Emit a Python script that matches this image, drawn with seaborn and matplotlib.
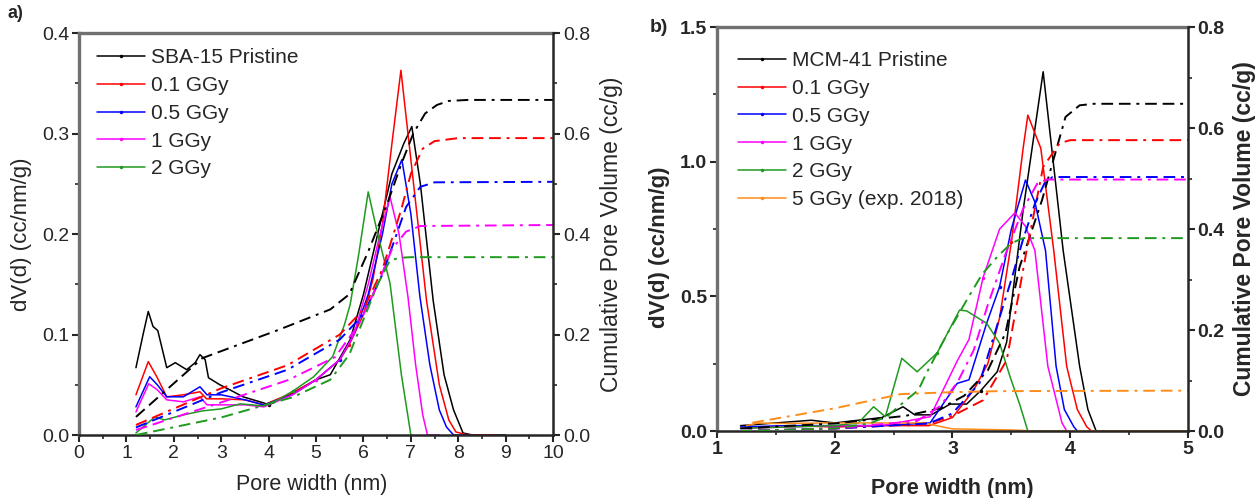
import matplotlib
matplotlib.use('Agg')
import matplotlib.pyplot as plt
import seaborn as sns
from matplotlib.ticker import MultipleLocator

# ---- panel a: SBA-15, pore size distribution (left axis) ----
a_black_x = [1.2, 1.35, 1.46, 1.56, 1.66, 1.85, 2.03, 2.27, 2.45, 2.55, 2.66, 2.73, 2.97, 3.18, 3.46, 3.89,
             4.0, 4.52, 5.0, 5.3, 5.72, 6.0, 6.3, 6.6, 6.85, 7.02, 7.2, 7.47, 7.7, 7.9, 8.1, 8.3, 9.0]
a_black_y = [0.067, 0.1, 0.123, 0.108, 0.104, 0.067, 0.072, 0.065, 0.072, 0.08, 0.075, 0.057, 0.05, 0.045, 0.038, 0.032,
             0.03, 0.042, 0.055, 0.06, 0.095, 0.14, 0.2, 0.26, 0.29, 0.307, 0.25, 0.134, 0.06, 0.025, 0.002, 0.0, 0.0]
a_red_x = [1.2, 1.46, 1.64, 1.85, 2.2, 2.55, 2.69, 3.0, 3.5, 3.9, 4.5, 5.0, 5.5, 5.7, 6.0, 6.2, 6.4, 6.6, 6.79,
           7.0, 7.33, 7.6, 7.8, 7.95, 8.2, 8.8]
a_red_y = [0.04, 0.073, 0.058, 0.038, 0.04, 0.043, 0.036, 0.036, 0.035, 0.03, 0.042, 0.055, 0.075, 0.09, 0.12, 0.155,
           0.21, 0.29, 0.363, 0.274, 0.134, 0.05, 0.015, 0.003, 0.0, 0.0]
a_blue_x = [1.2, 1.49, 1.65, 1.85, 2.2, 2.55, 2.7, 3.0, 3.5, 3.9, 4.5, 5.0, 5.5, 5.8, 6.1, 6.4, 6.6, 6.81,
            7.0, 7.19, 7.4, 7.6, 7.75, 7.9, 8.2]
a_blue_y = [0.028, 0.058, 0.05, 0.038, 0.038, 0.048, 0.04, 0.04, 0.035, 0.03, 0.04, 0.055, 0.075, 0.1, 0.14, 0.2,
            0.25, 0.274, 0.22, 0.138, 0.07, 0.025, 0.008, 0.0, 0.0]
a_mag_x = [1.2, 1.47, 1.65, 1.85, 2.2, 2.55, 2.7, 3.0, 3.5, 3.9, 4.5, 5.0, 5.5, 5.8, 6.1, 6.35, 6.56, 6.75,
           6.94, 7.1, 7.25, 7.35, 7.6]
a_mag_y = [0.023, 0.051, 0.045, 0.035, 0.033, 0.038, 0.03, 0.03, 0.03, 0.028, 0.04, 0.055, 0.075, 0.1, 0.15, 0.2,
           0.237, 0.2, 0.137, 0.07, 0.02, 0.0, 0.0]
a_green_x = [1.2, 1.4, 1.6, 1.8, 2.2, 2.6, 3.0, 3.4, 3.89, 4.2, 4.52, 4.95, 5.35, 5.6, 5.72, 5.9, 6.1, 6.3,
             6.56, 6.8, 7.0]
a_green_y = [0.002, 0.01, 0.018, 0.015, 0.02, 0.024, 0.026, 0.031, 0.029, 0.035, 0.044, 0.058, 0.078, 0.11, 0.13,
             0.18, 0.242, 0.2, 0.151, 0.06, 0.0]

# ---- panel a: cumulative pore volume (right axis) ----
a_cum_black_x = [1.2, 2.6, 4.2, 5.3, 5.7, 6.1, 6.5, 6.8, 7.05, 7.3, 7.55, 7.8, 8.2, 10.0]
a_cum_black_y = [0.036, 0.153, 0.209, 0.25, 0.28, 0.365, 0.46, 0.54, 0.6, 0.64, 0.657, 0.665, 0.667, 0.667]
a_cum_red_x = [1.2, 3.0, 4.4, 5.5, 6.0, 6.4, 6.8, 7.0, 7.25, 7.5, 8.0, 10.0]
a_cum_red_y = [0.02, 0.093, 0.139, 0.2, 0.25, 0.33, 0.45, 0.52, 0.57, 0.585, 0.591, 0.591]
a_cum_blue_x = [1.2, 3.0, 4.4, 5.5, 6.0, 6.4, 6.7, 6.9, 7.2, 7.5, 10.0]
a_cum_blue_y = [0.015, 0.085, 0.13, 0.19, 0.24, 0.32, 0.4, 0.454, 0.494, 0.503, 0.504]
a_cum_mag_x = [1.2, 3.0, 4.4, 5.4, 5.9, 6.3, 6.6, 6.9, 7.2, 10.0]
a_cum_mag_y = [0.01, 0.065, 0.109, 0.155, 0.22, 0.3, 0.37, 0.405, 0.416, 0.418]
a_cum_green_x = [1.2, 3.0, 4.5, 5.3, 5.7, 6.0, 6.3, 6.56, 6.8, 7.0, 10.0]
a_cum_green_y = [0.0, 0.035, 0.075, 0.11, 0.16, 0.23, 0.3, 0.348, 0.353, 0.354, 0.354]

a_labels = ["SBA-15 Pristine", "0.1 GGy", "0.5 GGy", "1 GGy", "2 GGy"]

# ---- panel b: MCM-41, pore size distribution (left axis) ----
b_black_x = [1.2, 1.5, 1.8, 2.0, 2.2, 2.4, 2.58, 2.68, 2.82, 2.98, 3.12, 3.24, 3.38, 3.46, 3.6, 3.77,
             3.94, 4.08, 4.15, 4.22, 4.6, 5.0]
b_black_y = [0.02, 0.03, 0.04, 0.03, 0.04, 0.05, 0.09, 0.06, 0.06, 0.1, 0.1, 0.15, 0.22, 0.33, 0.82, 1.334,
             0.67, 0.24, 0.08, 0.0, 0.0, 0.0]
b_red_x = [1.2, 1.6, 2.0, 2.4, 2.8, 3.0, 3.18, 3.3, 3.4, 3.5, 3.6, 3.64, 3.75, 3.86, 3.97, 4.06, 4.14, 4.18]
b_red_y = [0.01, 0.02, 0.015, 0.02, 0.02, 0.05, 0.152, 0.25, 0.42, 0.7, 1.05, 1.173, 1.05, 0.67, 0.24, 0.08,
           0.016, 0.0]
b_blue_x = [1.2, 1.6, 2.0, 2.4, 2.81, 3.04, 3.14, 3.29, 3.4, 3.5, 3.62, 3.7, 3.79, 3.88, 3.95, 4.03, 4.06]
b_blue_y = [0.015, 0.02, 0.02, 0.02, 0.03, 0.177, 0.19, 0.4, 0.536, 0.75, 0.932, 0.85, 0.67, 0.24, 0.08,
            0.016, 0.0]
b_mag_x = [1.2, 1.6, 2.0, 2.4, 2.81, 3.04, 3.14, 3.26, 3.4, 3.53, 3.62, 3.7, 3.81, 3.93, 3.97]
b_mag_y = [0.01, 0.015, 0.02, 0.02, 0.053, 0.26, 0.34, 0.57, 0.75, 0.81, 0.76, 0.67, 0.24, 0.03, 0.0]
b_green_x = [1.2, 1.6, 2.0, 2.2, 2.33, 2.43, 2.57, 2.7, 2.87, 3.06, 3.12, 3.29, 3.4, 3.49, 3.57, 3.64, 4.0]
b_green_y = [0.01, 0.015, 0.02, 0.03, 0.09, 0.053, 0.27, 0.22, 0.29, 0.449, 0.446, 0.4, 0.326, 0.2, 0.1,
             0.0, 0.0]
b_orange_x = [1.25, 1.35, 1.5, 2.0, 2.5, 2.75, 3.0, 3.5, 3.7, 5.0]
b_orange_y = [0.02, 0.03, 0.028, 0.03, 0.03, 0.03, 0.008, 0.004, 0.0, 0.0]

# ---- panel b: cumulative pore volume (right axis) ----
b_cum_black_x = [1.2, 2.0, 2.6, 2.9, 3.1, 3.3, 3.45, 3.57, 3.76, 3.96, 4.08, 4.2, 5.0]
b_cum_black_y = [0.005, 0.015, 0.03, 0.045, 0.07, 0.12, 0.194, 0.325, 0.457, 0.622, 0.645, 0.648, 0.648]
b_cum_red_x = [1.2, 2.0, 2.8, 3.0, 3.26, 3.46, 3.63, 3.77, 3.91, 4.0, 5.0]
b_cum_red_y = [0.0, 0.005, 0.015, 0.03, 0.061, 0.14, 0.358, 0.523, 0.57, 0.576, 0.576]
b_cum_blue_x = [1.2, 2.0, 2.8, 3.0, 3.23, 3.375, 3.5, 3.6, 3.7, 3.78, 3.85, 5.0]
b_cum_blue_y = [0.0, 0.005, 0.015, 0.035, 0.095, 0.206, 0.3, 0.38, 0.45, 0.49, 0.503, 0.503]
b_cum_mag_x = [1.2, 2.0, 2.7, 2.9, 3.05, 3.18, 3.3, 3.45, 3.6, 3.72, 3.8, 5.0]
b_cum_mag_y = [0.0, 0.005, 0.02, 0.05, 0.1, 0.16, 0.25, 0.35, 0.44, 0.49, 0.498, 0.498]
b_cum_green_x = [1.2, 2.0, 2.3, 2.45, 2.6, 2.71, 2.78, 2.95, 3.12, 3.25, 3.38, 3.5, 3.6, 5.0]
b_cum_green_y = [0.0, 0.005, 0.015, 0.03, 0.06, 0.081, 0.115, 0.19, 0.259, 0.31, 0.345, 0.372, 0.382, 0.382]
b_cum_orange_x = [1.3, 2.0, 2.56, 3.0, 3.4, 5.0]
b_cum_orange_y = [0.0165, 0.045, 0.073, 0.077, 0.079, 0.08]

b_labels = ["MCM-41 Pristine", "0.1 GGy", "0.5 GGy", "1 GGy", "2 GGy", "5 GGy (exp. 2018)"]

colors = ["#000000", "#ff0000", "#0000ff", "#ff00ff", "#1f9a1f", "#ff8c1a"]

sns.set_style("ticks")
plt.rcParams['font.family'] = ['Liberation Sans', 'DejaVu Sans']

fig = plt.figure(figsize=(12.55, 4.98), dpi=100)
ax_a = fig.add_axes([0.063, 0.1265, 0.3777, 0.807])
ax_b = fig.add_axes([0.5713, 0.1345, 0.3753, 0.8112])
ax_a2 = ax_a.twinx()
ax_b2 = ax_b.twinx()

cum_dash = (6, 3, 6, 3, 1.5, 3)


def draw(ax, ax2, psd, cum, labels):
    for (x, y), lab, c in zip(psd, labels, colors):
        sns.lineplot(x=x, y=y, ax=ax, color=c, lw=1.1, label=lab, sort=False, estimator=None,
                     marker='o', markersize=2.5, markeredgewidth=0, markevery=[len(x) // 2])
    for (x, y), c in zip(cum, colors):
        sns.lineplot(x=x, y=y, ax=ax2, color=c, lw=1.4, sort=False, estimator=None,
                     legend=False, dashes=False, linestyle=(0, cum_dash))


draw(ax_a, ax_a2,
     [(a_black_x, a_black_y), (a_red_x, a_red_y), (a_blue_x, a_blue_y), (a_mag_x, a_mag_y),
      (a_green_x, a_green_y)],
     [(a_cum_black_x, a_cum_black_y), (a_cum_red_x, a_cum_red_y), (a_cum_blue_x, a_cum_blue_y),
      (a_cum_mag_x, a_cum_mag_y), (a_cum_green_x, a_cum_green_y)],
     a_labels)
draw(ax_b, ax_b2,
     [(b_black_x, b_black_y), (b_red_x, b_red_y), (b_blue_x, b_blue_y), (b_mag_x, b_mag_y),
      (b_green_x, b_green_y), (b_orange_x, b_orange_y)],
     [(b_cum_black_x, b_cum_black_y), (b_cum_red_x, b_cum_red_y), (b_cum_blue_x, b_cum_blue_y),
      (b_cum_mag_x, b_cum_mag_y), (b_cum_green_x, b_cum_green_y), (b_cum_orange_x, b_cum_orange_y)],
     b_labels)

# axis limits and ticks
ax_a.set_xlim(0, 10)
ax_a.set_ylim(0, 0.4)
ax_a2.set_ylim(0, 0.8)
ax_a.xaxis.set_major_locator(MultipleLocator(1))
ax_a.xaxis.set_minor_locator(MultipleLocator(0.5))
ax_a.yaxis.set_major_locator(MultipleLocator(0.1))
ax_a.yaxis.set_minor_locator(MultipleLocator(0.05))
ax_a2.yaxis.set_major_locator(MultipleLocator(0.2))
ax_a2.yaxis.set_minor_locator(MultipleLocator(0.1))

ax_b.set_xlim(1, 5)
ax_b.set_ylim(0, 1.5)
ax_b2.set_ylim(0, 0.8)
ax_b.xaxis.set_major_locator(MultipleLocator(1))
ax_b.xaxis.set_minor_locator(MultipleLocator(0.5))
ax_b.yaxis.set_major_locator(MultipleLocator(0.5))
ax_b.yaxis.set_minor_locator(MultipleLocator(0.25))
ax_b2.yaxis.set_major_locator(MultipleLocator(0.2))
ax_b2.yaxis.set_minor_locator(MultipleLocator(0.1))

ax_a.yaxis.set_major_formatter(plt.FormatStrFormatter('%.1f'))
ax_a2.yaxis.set_major_formatter(plt.FormatStrFormatter('%.1f'))
ax_b.yaxis.set_major_formatter(plt.FormatStrFormatter('%.1f'))
ax_b2.yaxis.set_major_formatter(plt.FormatStrFormatter('%.1f'))

for ax, ax2, bold in [(ax_a, ax_a2, False), (ax_b, ax_b2, True)]:
    w = 'bold' if bold else 'normal'
    for a in (ax, ax2):
        a.tick_params(which='major', direction='out', length=5, width=1.5, labelsize=14, pad=2)
        a.tick_params(which='minor', direction='out', length=3, width=1.2)
        for t in a.get_xticklabels() + a.get_yticklabels():
            t.set_fontweight(w)
    ax.spines['right'].set_visible(False)
    ax2.spines['left'].set_visible(False)
    ax2.spines['top'].set_visible(False)
    ax2.spines['bottom'].set_visible(False)
    ax.spines['left'].set_color('#707070')
    ax.spines['top'].set_color('#707070')
    ax.spines['left'].set_linewidth(2.4)
    ax.spines['top'].set_linewidth(2.4)
    ax.spines['bottom'].set_linewidth(1.8)
    ax2.spines['right'].set_linewidth(1.8)
    ax.set_xlabel("Pore width (nm)", fontsize=15.5, fontweight=w)
    ax.set_ylabel("dV(d) (cc/nm/g)", fontsize=16, fontweight=w)
    ax2.set_ylabel("Cumulative Pore Volume (cc/g)", fontsize=16.5, fontweight=w)

ax_a.xaxis.set_label_coords(0.49, -0.097)
ax_a.yaxis.set_label_coords(-0.1, 0.5)
ax_a2.yaxis.set_label_coords(1.099, 0.5)
ax_b.xaxis.set_label_coords(0.5, -0.116)
ax_b.yaxis.set_label_coords(-0.1, 0.455)
ax_b2.yaxis.set_label_coords(1.096, 0.5)

# legends
ax_a.legend(loc='upper left', bbox_to_anchor=(0.038, 0.962), frameon=False, fontsize=15,
            handlelength=2.3, handletextpad=0.3, labelspacing=0.42, borderpad=0, borderaxespad=0)
ax_b.legend(loc='upper left', bbox_to_anchor=(0.045, 0.94), frameon=False, fontsize=15,
            handlelength=2.3, handletextpad=0.3, labelspacing=0.42, borderpad=0, borderaxespad=0)

# panel labels
fig.text(8 / 1255, 1 - 13 / 498, "a)", fontsize=13, fontweight='bold', va='center', ha='left')
fig.text(650 / 1255, 1 - 27 / 498, "b)", fontsize=14, fontweight='bold', va='center', ha='left')

fig.savefig("out.png", dpi=100)
